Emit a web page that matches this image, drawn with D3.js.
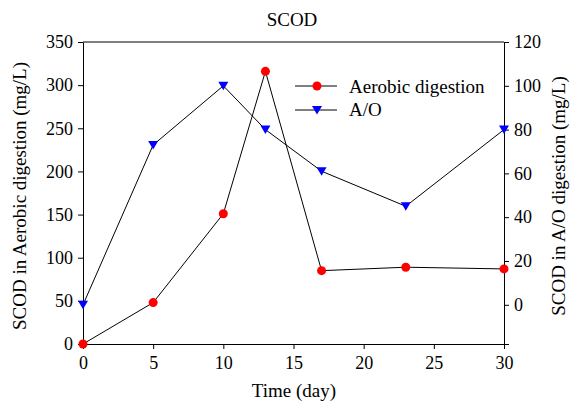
<!DOCTYPE html>
<html>
<head>
  <meta charset="utf-8" />
  <script src="https://cdn.jsdelivr.net/npm/d3@7/dist/d3.min.js"></script>
  <style>
  body { margin: 0; background: #fff; }
  svg text { font-family: "Liberation Serif", "Times New Roman", serif; fill: #000; }
  .axis path, .axis line { stroke: #000; }
  </style>
</head>
<body>
  <svg width="576" height="403"></svg>
  <script>
  // data
  var days = [0, 5, 10, 13, 17, 23, 30]
  var aerobic = [0, 48, 151, 316, 85, 89, 87]
  var ao = [0, 73, 100, 80, 61, 45, 80]
  var xTicks = [0, 5, 10, 15, 20, 25, 30]
  var leftTicks = [0, 50, 100, 150, 200, 250, 300, 350]
  var rightTicks = [0, 20, 40, 60, 80, 100, 120]

  var svg = d3.select('svg')
  var plotL = 83, plotR = 504, plotT = 42, plotB = 344

  var x = d3.scaleLinear().domain([0, 30]).range([plotL, plotR])
  var yL = d3.scaleLinear().domain([0, 350]).range([plotB, plotT])
  var yR = d3.scaleLinear().domain([-17.9, 120]).range([plotB, plotT])

  // frame top line
  svg.append('line')
     .attr('x1', plotL).attr('x2', plotR)
     .attr('y1', plotT).attr('y2', plotT)
     .attr('stroke', '#000')

  var fs = '19px', tfs = '18px'

  svg.append('g').attr('class', 'axis')
     .attr('transform', 'translate(0,' + plotB + ')')
     .call(d3.axisBottom(x).tickValues(xTicks).tickSize(5).tickSizeOuter(0))
     .call(g => g.selectAll('text').style('font-size', tfs).attr('y', 9).attr('dy', '0.9em'))

  svg.append('g').attr('class', 'axis')
     .attr('transform', 'translate(' + plotL + ',0)')
     .call(d3.axisLeft(yL).tickValues(leftTicks).tickSize(5).tickSizeOuter(0))
     .call(g => g.selectAll('text').style('font-size', tfs).attr('x', -10))

  svg.append('g').attr('class', 'axis')
     .attr('transform', 'translate(' + plotR + ',0)')
     .call(d3.axisRight(yR).tickValues(rightTicks).tickSize(5).tickSizeOuter(5))
     .call(g => g.selectAll('text').style('font-size', tfs).attr('x', 10))

  svg.selectAll('.axis path').attr('stroke', '#000')

  // titles
  svg.append('text').attr('x', 292).attr('y', 26)
     .attr('text-anchor', 'middle').style('font-size', fs).text('SCOD')
  svg.append('text').attr('x', 294).attr('y', 397)
     .attr('text-anchor', 'middle').style('font-size', fs).text('Time (day)')
  svg.append('text')
     .attr('transform', 'translate(26,196) rotate(-90)')
     .attr('text-anchor', 'middle').style('font-size', fs)
     .text('SCOD in Aerobic digestion (mg/L)')
  svg.append('text')
     .attr('transform', 'translate(565,196) rotate(-90)')
     .attr('text-anchor', 'middle').style('font-size', fs)
     .text('SCOD in A/O digestion (mg/L)')

  var triangle = 'M-5,-4L5,-4L0,4.5Z'

  // aerobic series
  var lineL = d3.line().x((d, i) => x(days[i])).y(d => yL(d))
  svg.append('path').attr('d', lineL(aerobic))
     .attr('fill', 'none').attr('stroke', '#000').attr('stroke-width', 1)

  // A/O series
  var lineR = d3.line().x((d, i) => x(days[i])).y(d => yR(d))
  svg.append('path').attr('d', lineR(ao))
     .attr('fill', 'none').attr('stroke', '#000').attr('stroke-width', 1)

  svg.selectAll('.ptL').data(aerobic).enter().append('circle')
     .attr('cx', (d, i) => x(days[i])).attr('cy', d => yL(d))
     .attr('r', 4.5).attr('fill', '#ff0000')

  svg.selectAll('.ptR').data(ao).enter().append('path')
     .attr('d', triangle)
     .attr('transform', (d, i) => 'translate(' + x(days[i]) + ',' + yR(d) + ')')
     .attr('fill', '#0000ff')

  // legend
  var lg = svg.append('g')
  lg.append('line').attr('x1', 295).attr('x2', 337).attr('y1', 86).attr('y2', 86).attr('stroke', '#000')
  lg.append('circle').attr('cx', 317).attr('cy', 86).attr('r', 4.5).attr('fill', '#ff0000')
  lg.append('text').attr('x', 349).attr('y', 93).style('font-size', fs).text('Aerobic digestion')
  lg.append('line').attr('x1', 295).attr('x2', 337).attr('y1', 110).attr('y2', 110).attr('stroke', '#000')
  lg.append('path').attr('d', triangle).attr('transform', 'translate(317,110)').attr('fill', '#0000ff')
  lg.append('text').attr('x', 349).attr('y', 116).style('font-size', fs).text('A/O')
  </script>
</body>
</html>
